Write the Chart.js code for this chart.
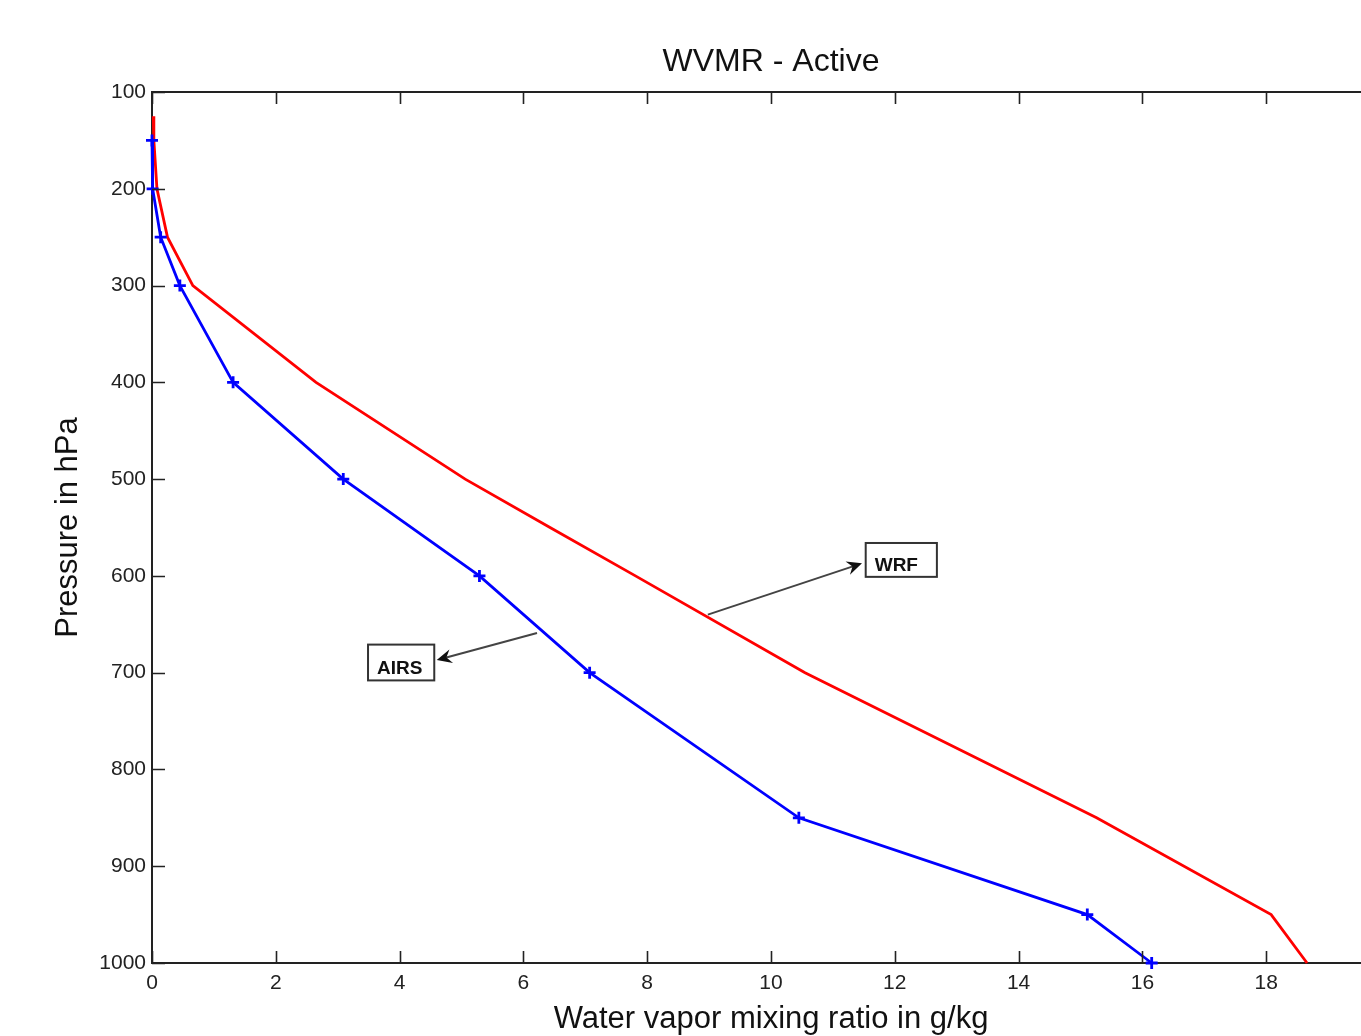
<!DOCTYPE html>
<html lang="en">
<head>
<meta charset="UTF-8">
<title>WVMR - Active</title>
<script src="https://cdn.jsdelivr.net/npm/chart.js"></script>
<style>
  html, body { margin: 0; padding: 0; background: #fff; overflow: hidden; }
  #wrap { width: 1420px; height: 1036px; }
</style>
</head>
<body>
<div id="wrap"><canvas id="wvmrChart"></canvas></div>
<script>
// values
const airsPressure = [150, 200, 250, 300, 400, 500, 600, 700, 850, 950, 1000];
const airsMixing   = [0.0, 0.01, 0.14, 0.45, 1.31, 3.09, 5.29, 7.07, 10.45, 15.11, 16.15];
const wrfPressure  = [125, 150, 200, 250, 300, 400, 500, 550, 600, 700, 850, 950, 1000];
const wrfMixing    = [0.02, 0.03, 0.08, 0.25, 0.66, 2.65, 5.06, 6.43, 7.81, 10.55, 15.26, 18.08, 18.66];
const xTicks = [0, 2, 4, 6, 8, 10, 12, 14, 16, 18, 20];
const yTicks = [100, 200, 300, 400, 500, 600, 700, 800, 900, 1000];

const FONT = "'Liberation Sans', Arial, Helvetica, sans-serif";
const AXIS_COLOR = '#222';

// text boxes with arrows (in data units)
const notes = [
    { text: 'WRF',  box: [11.53, 566, 12.68, 601], from: [8.98, 640], to: [11.47, 587] },
    { text: 'AIRS', box: [3.49, 671, 4.56, 708],   from: [6.22, 659], to: [4.60, 687] }
];

function toPoints(xs, ys) {
    return xs.map((v, i) => ({ x: v, y: ys[i] }));
}

// matlab style ticks pointing into the plot box
const inwardTicks = {
    id: 'inwardTicks',
    afterDraw(chart) {
        const { ctx, chartArea: a } = chart;
        const x = chart.scales.x, y = chart.scales.y;
        ctx.save();
        ctx.strokeStyle = AXIS_COLOR;
        ctx.lineWidth = 1.6;
        ctx.beginPath();
        xTicks.forEach(v => {
            const px = Math.round(x.getPixelForValue(v)) + 0.5;
            ctx.moveTo(px, a.bottom); ctx.lineTo(px, a.bottom - 12);
            ctx.moveTo(px, a.top);    ctx.lineTo(px, a.top + 12);
        });
        yTicks.forEach(v => {
            const py = Math.round(y.getPixelForValue(v)) + 0.5;
            ctx.moveTo(a.left, py); ctx.lineTo(a.left + 13, py);
        });
        ctx.stroke();
        ctx.restore();
    }
};

const noteBoxes = {
    id: 'noteBoxes',
    afterDraw(chart) {
        const { ctx } = chart;
        const x = chart.scales.x, y = chart.scales.y;
        ctx.save();
        notes.forEach(n => {
            const x1 = x.getPixelForValue(n.from[0]), y1 = y.getPixelForValue(n.from[1]);
            const x2 = x.getPixelForValue(n.to[0]),   y2 = y.getPixelForValue(n.to[1]);
            const ang = Math.atan2(y2 - y1, x2 - x1);
            // shaft
            ctx.strokeStyle = '#444';
            ctx.lineWidth = 2;
            ctx.beginPath();
            ctx.moveTo(x1, y1);
            ctx.lineTo(x2 - 8 * Math.cos(ang), y2 - 8 * Math.sin(ang));
            ctx.stroke();
            // head
            const len = 15, half = 7;
            const bx = x2 - len * Math.cos(ang), by = y2 - len * Math.sin(ang);
            const nx = -Math.sin(ang), ny = Math.cos(ang);
            ctx.fillStyle = '#111';
            ctx.beginPath();
            ctx.moveTo(x2, y2);
            ctx.lineTo(bx + nx * half, by + ny * half);
            ctx.lineTo(x2 - 10 * Math.cos(ang), y2 - 10 * Math.sin(ang));
            ctx.lineTo(bx - nx * half, by - ny * half);
            ctx.closePath();
            ctx.fill();
            // box
            const l = x.getPixelForValue(n.box[0]), t = y.getPixelForValue(n.box[1]);
            const r = x.getPixelForValue(n.box[2]), b = y.getPixelForValue(n.box[3]);
            ctx.fillStyle = '#fff';
            ctx.fillRect(l, t, r - l, b - t);
            ctx.strokeStyle = '#333';
            ctx.lineWidth = 2;
            ctx.strokeRect(l, t, r - l, b - t);
            ctx.fillStyle = '#111';
            ctx.font = 'bold 19px ' + FONT;
            ctx.textBaseline = 'middle';
            ctx.textAlign = 'left';
            ctx.fillText(n.text, l + 9, (t + b) / 2 + 6);
        });
        ctx.restore();
    }
};

new Chart(document.getElementById('wvmrChart'), {
    type: 'scatter',
    data: {
        datasets: [
            {
                label: 'AIRS',
                data: toPoints(airsMixing, airsPressure),
                showLine: true,
                borderColor: '#0000ff',
                backgroundColor: '#0000ff',
                borderWidth: 2.8,
                pointStyle: 'cross',
                pointRadius: 6,
                pointBorderWidth: 2.8,
                clip: false
            },
            {
                label: 'WRF',
                data: toPoints(wrfMixing, wrfPressure),
                showLine: true,
                borderColor: '#ff0000',
                backgroundColor: '#ff0000',
                borderWidth: 2.8,
                pointRadius: 0,
                clip: false
            }
        ]
    },
    options: {
        responsive: true,
        maintainAspectRatio: false,
        animation: false,
        layout: { padding: { left: 0, right: 30, top: 0, bottom: 0 } },
        plugins: {
            legend: { display: false },
            tooltip: { enabled: false },
            title: {
                display: true,
                text: 'WVMR - Active',
                fullSize: false,
                color: '#111',
                font: { family: FONT, size: 32, weight: 'normal', lineHeight: 1.2 },
                padding: { top: 43, bottom: 10.6 }
            }
        },
        scales: {
            x: {
                type: 'linear',
                position: 'bottom',
                min: 0,
                max: 20,
                afterBuildTicks: s => { s.ticks = xTicks.map(v => ({ value: v })); },
                afterFit: s => { s.height = 73; },
                grid: { display: false, drawTicks: false },
                border: { display: true, color: AXIS_COLOR, width: 2 },
                ticks: {
                    color: '#222',
                    padding: 8,
                    autoSkip: false,
                    maxRotation: 0,
                    font: { family: FONT, size: 21 },
                    callback: v => String(v)
                },
                title: {
                    display: true,
                    text: 'Water vapor mixing ratio in g/kg',
                    color: '#111',
                    font: { family: FONT, size: 31, lineHeight: 1 },
                    padding: { top: 0, bottom: 1.5 }
                }
            },
            xTop: {
                type: 'linear',
                position: 'top',
                min: 0,
                max: 20,
                afterFit: s => { s.height = 0; },
                grid: { display: false, drawTicks: false },
                border: { display: true, color: AXIS_COLOR, width: 2 },
                ticks: { display: false }
            },
            y: {
                type: 'linear',
                position: 'left',
                reverse: true,
                min: 100,
                max: 1000,
                afterBuildTicks: s => { s.ticks = yTicks.map(v => ({ value: v })); },
                afterFit: s => { s.width = 152; },
                grid: { display: false, drawTicks: false },
                border: { display: true, color: AXIS_COLOR, width: 2 },
                ticks: {
                    color: '#222',
                    padding: 6,
                    font: { family: FONT, size: 21 },
                    callback: v => String(v)
                },
                title: {
                    display: true,
                    text: 'Pressure in hPa',
                    color: '#111',
                    font: { family: FONT, size: 31, lineHeight: 1 },
                    padding: { top: 52.5, bottom: 0 }
                }
            }
        }
    },
    plugins: [inwardTicks, noteBoxes]
});
</script>
</body>
</html>
